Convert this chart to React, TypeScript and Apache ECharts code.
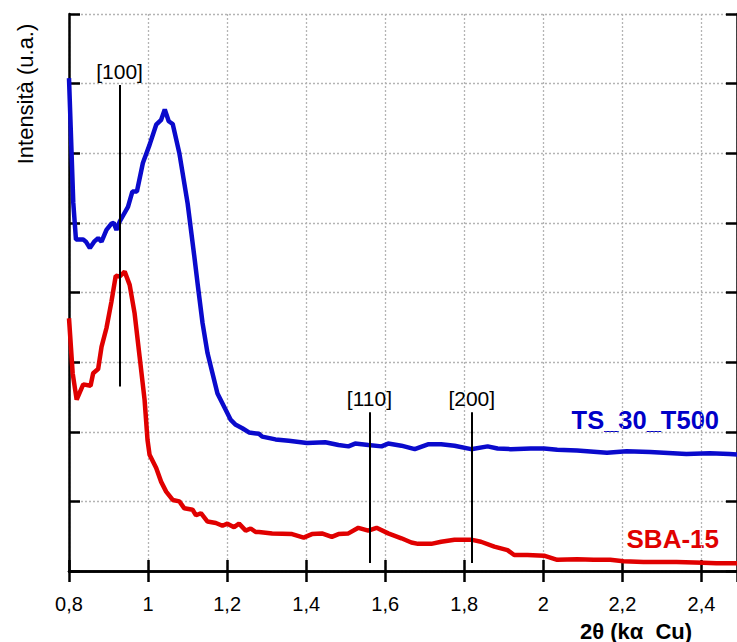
import React, { useEffect, useRef } from "react";
import * as echarts from "echarts";

const tsX = [0.8, 0.8108, 0.8176, 0.836, 0.8428, 0.8528, 0.8636, 0.8737, 0.8823, 0.8948, 0.9074, 0.9132, 0.92, 0.9283, 0.9492, 0.9603, 0.9718, 0.9869, 1.0038, 1.0206, 1.0332, 1.0423, 1.0523, 1.0624, 1.0792, 1.1001, 1.117, 1.1253, 1.1379, 1.1504, 1.163, 1.1756, 1.1925, 1.2093, 1.2219, 1.2385, 1.2553, 1.2805, 1.2888, 1.3225, 1.356, 1.402, 1.4483, 1.4818, 1.5069, 1.5238, 1.5572, 1.5907, 1.6075, 1.641, 1.6747, 1.7082, 1.7416, 1.7753, 1.8171, 1.8591, 1.8843, 1.9177, 1.968, 2.0018, 2.0352, 2.0855, 2.161, 2.211, 2.27, 2.362, 2.421, 2.471, 2.5];
const tsY = [7.08, 5.29, 4.76, 4.76, 4.73, 4.64, 4.73, 4.78, 4.73, 4.9, 4.99, 5.0, 4.9, 5.02, 5.23, 5.45, 5.45, 5.86, 6.12, 6.41, 6.48, 6.63, 6.46, 6.42, 6.0, 5.28, 4.52, 4.13, 3.56, 3.13, 2.84, 2.55, 2.36, 2.17, 2.1, 2.05, 1.99, 1.97, 1.93, 1.89, 1.87, 1.84, 1.85, 1.81, 1.79, 1.83, 1.81, 1.79, 1.83, 1.8, 1.75, 1.82, 1.82, 1.8, 1.75, 1.79, 1.76, 1.75, 1.76, 1.76, 1.74, 1.73, 1.7, 1.72, 1.71, 1.68, 1.69, 1.68, 1.67];

const sbaX = [0.8, 0.8093, 0.8194, 0.836, 0.8546, 0.8611, 0.8737, 0.8823, 0.8948, 0.9074, 0.9182, 0.9283, 0.9409, 0.9535, 0.966, 0.9786, 0.9912, 0.9987, 1.0038, 1.0206, 1.0332, 1.0458, 1.0624, 1.0792, 1.0918, 1.1127, 1.1213, 1.1338, 1.1504, 1.1716, 1.1882, 1.2008, 1.2176, 1.2302, 1.2471, 1.2596, 1.2722, 1.2805, 1.314, 1.3643, 1.3937, 1.4146, 1.4398, 1.4649, 1.4818, 1.5069, 1.5321, 1.5572, 1.5781, 1.6075, 1.641, 1.6662, 1.683, 1.7165, 1.7416, 1.7753, 1.8171, 1.8423, 1.876, 1.9094, 1.9263, 1.9597, 2.0018, 2.0352, 2.0855, 2.1275, 2.1693, 2.203, 2.2533, 2.3371, 2.4043, 2.4377, 2.5];
const sbaY = [3.63, 2.84, 2.46, 2.68, 2.66, 2.84, 2.9, 3.22, 3.49, 3.87, 4.24, 4.23, 4.3, 4.11, 3.7, 3.08, 2.46, 1.88, 1.67, 1.48, 1.28, 1.14, 1.02, 1.0, 0.9, 0.88, 0.8, 0.83, 0.71, 0.69, 0.65, 0.68, 0.63, 0.68, 0.58, 0.61, 0.56, 0.56, 0.54, 0.53, 0.48, 0.53, 0.54, 0.49, 0.53, 0.54, 0.62, 0.58, 0.62, 0.54, 0.47, 0.41, 0.39, 0.39, 0.42, 0.45, 0.45, 0.42, 0.35, 0.3, 0.23, 0.23, 0.22, 0.16, 0.17, 0.16, 0.16, 0.14, 0.13, 0.13, 0.12, 0.11, 0.11];

const peakLabels = ["[100]", "[110]", "[200]"];
const peakX = [0.928, 1.56, 1.819];
const peakBottom = [2.65, 0.115, 0.115];
const peakTop = [6.98, 2.28, 2.28];

const seriesNames = ["TS_30_T500", "SBA-15"];

const FONT = "Arial, 'Liberation Sans', Helvetica, sans-serif";

export default function App() {
  const ref = useRef<HTMLDivElement>(null);
  useEffect(() => {
    if (!ref.current) return;
    const chart = echarts.init(ref.current, null, { renderer: "svg" });
    const zip = (xs: number[], ys: number[]) => xs.map((x, i) => [x, ys[i]]);
    const fmt = (v: number) => String(Math.round(v * 10) / 10).replace(".", ",");
    const grid = { left: 69, top: 14, right: -4, bottom: 71 };
    const axisLine = { show: true, lineStyle: { color: "#000", width: 2.5 } };
    const axisTick = { show: true, inside: true, length: 11, lineStyle: { color: "#000", width: 2.5 } };
    const splitLine = { show: true, lineStyle: { color: "#b4b4b4", width: 1.3, type: [2, 2] as any } };

    chart.setOption({
      animation: false,
      backgroundColor: "#fff",
      grid,
      xAxis: [
        {
          type: "value", min: 0.8, max: 2.49, interval: 0.2, position: "bottom",
          axisLine, axisTick, splitLine,
          axisLabel: { show: true, formatter: fmt, fontSize: 20, color: "#000", fontFamily: FONT, margin: 23, showMaxLabel: false },
        },
        {
          type: "value", min: 0.8, max: 2.49, interval: 0.2, position: "top",
          axisLine, axisTick, splitLine: { show: false }, axisLabel: { show: false },
        },
      ],
      yAxis: [
        {
          type: "value", min: 0, max: 8, interval: 1, position: "left",
          axisLine, axisTick, splitLine, axisLabel: { show: false },
        },
        {
          type: "value", min: 0, max: 8, interval: 1, position: "right",
          axisLine, axisTick, splitLine: { show: false }, axisLabel: { show: false },
        },
      ],
      series: [
        {
          name: seriesNames[0], type: "line", data: zip(tsX, tsY), symbol: "none",
          lineStyle: { color: "#0a0acc", width: 4.5 }, z: 3,
        },
        {
          name: seriesNames[1], type: "line", data: zip(sbaX, sbaY), symbol: "none",
          lineStyle: { color: "#e00000", width: 4.5 }, z: 3,
          markLine: {
            symbol: ["none", "none"],
            silent: true,
            lineStyle: { color: "#000", width: 2, type: "solid" },
            label: { show: true, position: "end", distance: 3, color: "#000", fontSize: 21, fontFamily: FONT },
            data: peakLabels.map((l, i) => [
              { coord: [peakX[i], peakBottom[i]], name: l },
              { coord: [peakX[i], peakTop[i]] },
            ]),
          },
        },
      ],
      graphic: [
        {
          type: "text", x: 25, y: 94, rotation: Math.PI / 2,
          style: { text: "Intensità (u.a.)", textAlign: "center", textVerticalAlign: "middle", fontSize: 22, fill: "#000", fontFamily: FONT },
        },
        {
          type: "text", x: 636, y: 631,
          style: { text: "2θ (kα  Cu)", textAlign: "center", textVerticalAlign: "middle", fontSize: 22, fontWeight: "bold", fill: "#000", fontFamily: FONT },
        },
        {
          type: "text", x: 719, y: 420,
          style: { text: seriesNames[0], textAlign: "right", textVerticalAlign: "middle", fontSize: 25.5, fontWeight: "bold", fill: "#0000c8", fontFamily: FONT },
        },
        {
          type: "text", x: 719, y: 539,
          style: { text: seriesNames[1], textAlign: "right", textVerticalAlign: "middle", fontSize: 26, fontWeight: "bold", fill: "#e00000", fontFamily: FONT },
        },
      ],
    });
    return () => chart.dispose();
  }, []);
  return <div ref={ref} style={{ position: "absolute", left: 0, top: 0, width: 737, height: 642 }} />;
}
